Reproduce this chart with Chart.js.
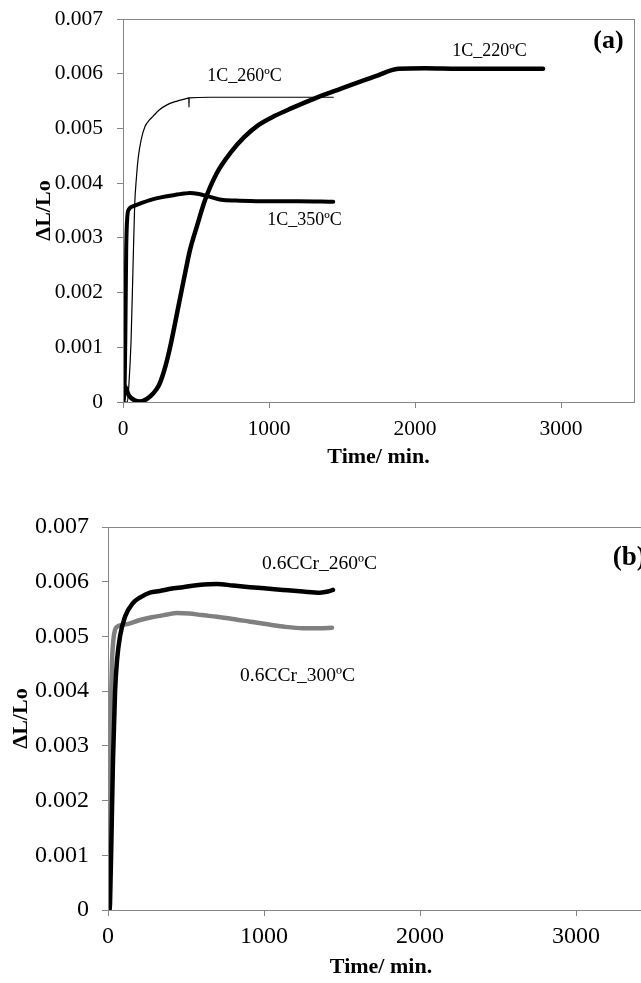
<!DOCTYPE html>
<html><head><meta charset="utf-8">
<script src="https://cdn.jsdelivr.net/npm/chart.js@4"></script>
<style>
html,body{margin:0;padding:0;background:#fff;overflow:hidden;width:641px;height:983px;}
#wrap{position:relative;width:641px;height:983px;overflow:hidden;background:#fff;}
canvas{position:absolute;left:0;}
#c1{top:0;}
#c2{top:490px;}
</style></head><body>
<div id="wrap">
<canvas id="c1" width="641" height="480"></canvas>
<canvas id="c2" width="680" height="493"></canvas>
</div>
<script>
// ---------- data: panel (a) ----------
const t260 = [0, 30, 40, 55, 68, 80, 92, 105, 125, 150, 180, 205, 250, 301, 370, 440, 451, 452, 453, 600, 900, 1200, 1440];
const v260 = [0, 0, 0.0003, 0.0011, 0.0024, 0.0036, 0.0041, 0.00448, 0.0048, 0.00503, 0.00515, 0.00522, 0.00534, 0.00543, 0.0055, 0.00555, 0.00556, 0.00539, 0.00556, 0.00557, 0.00557, 0.00557, 0.00557];

const t350 = [0, 10, 16, 22, 30, 40, 55, 71, 120, 185, 260, 345, 420, 459, 520, 596, 687, 801, 1000, 1200, 1440];
const v350 = [0, 0.0002, 0.0012, 0.0028, 0.0034, 0.00352, 0.00356, 0.00358, 0.00363, 0.00369, 0.00374, 0.00378, 0.00381, 0.00382, 0.0038, 0.00375, 0.00369, 0.00368, 0.00367, 0.00367, 0.00366];

const t220 = [0, 6, 15, 40, 80, 116, 160, 208, 245, 276, 305, 333, 379, 425, 459, 505, 562, 642, 744, 830, 927, 1040, 1155, 1315, 1498, 1726, 1886, 2068, 2300, 2600, 2877];
const v220 = [0, 0.0003, 0.00028, 0.00012, 0.00003, 0.00001, 0.00005, 0.00016, 0.0003, 0.00052, 0.0008, 0.00113, 0.00174, 0.00235, 0.00278, 0.0032, 0.00369, 0.00418, 0.00458, 0.00484, 0.00506, 0.00523, 0.00537, 0.00555, 0.00573, 0.00595, 0.00609, 0.0061, 0.00609, 0.00609, 0.00609];

// ---------- data: panel (b) ----------
const tCr260 = [10, 13, 22, 32, 45, 58, 77, 109, 160, 210, 269, 333, 400, 481, 580, 699, 800, 910, 1000, 1122, 1250, 1359, 1410, 1442];
const vCr260 = [0, 0.00013, 0.0013, 0.00274, 0.00397, 0.00457, 0.005, 0.00536, 0.00561, 0.00572, 0.0058, 0.00583, 0.00587, 0.0059, 0.00594, 0.00596, 0.00593, 0.0059, 0.00588, 0.00585, 0.00582, 0.0058, 0.00582, 0.00585];

const tCr300 = [2, 4, 8, 13, 20, 26, 35, 45, 60, 77, 130, 205, 280, 378, 442, 520, 600, 699, 800, 910, 1000, 1122, 1250, 1359, 1436];
const vCr300 = [0, 0.0001, 0.0012, 0.0027, 0.0039, 0.00457, 0.00495, 0.00512, 0.00518, 0.0052, 0.00523, 0.0053, 0.00535, 0.0054, 0.00543, 0.00542, 0.00539, 0.00536, 0.00532, 0.00527, 0.00523, 0.00518, 0.00515, 0.00515, 0.00516];

// ---------- ticks & labels ----------
const xTickValues = [0, 1000, 2000, 3000];
const xTickLabels = ['0', '1000', '2000', '3000'];
const yTickValues = [0, 0.001, 0.002, 0.003, 0.004, 0.005, 0.006, 0.007];
const yTickLabels = ['0', '0.001', '0.002', '0.003', '0.004', '0.005', '0.006', '0.007'];
const xTitle = 'Time/ min.';
const yTitle = 'ΔL/Lo';
const namesA = ['1C_260ºC', '1C_350ºC', '1C_220ºC'];
const namesB = ['0.6CCr_260ºC', '0.6CCr_300ºC'];
const panelA = '(a)';
const panelB = '(b)';

const pts = (xs, ys) => xs.map((x, i) => ({x: x, y: ys[i]}));
const FONT = "'Liberation Serif', 'Times New Roman', serif";
const AXIS = '#868686';

const frame = {
  id: 'frame',
  afterDraw(chart) {
    const a = chart.chartArea, ctx = chart.ctx;
    ctx.save();
    ctx.strokeStyle = AXIS; ctx.lineWidth = 1;
    ctx.strokeRect(Math.round(a.left) + 0.5, Math.round(a.top) + 0.5, Math.round(a.right - a.left), Math.round(a.bottom - a.top));
    ctx.restore();
  }
};

const notes = {
  id: 'notes',
  afterDatasetsDraw(chart, args, opts) {
    const ctx = chart.ctx, sx = chart.scales.x, sy = chart.scales.y;
    ctx.save();
    ctx.fillStyle = '#000';
    ctx.textBaseline = 'middle';
    (opts.items || []).forEach(it => {
      ctx.font = it.font;
      ctx.textAlign = it.align || 'center';
      ctx.fillText(it.text, sx.getPixelForValue(it.x), sy.getPixelForValue(it.y));
    });
    ctx.restore();
  }
};

function zeroPad(s) { s.paddingTop = 0; s.paddingBottom = 0; s.paddingLeft = 0; s.paddingRight = 0; }

function makeChart(id, datasets, g) {
  return new Chart(document.getElementById(id), {
    type: 'line',
    data: {datasets: datasets},
    options: {
      responsive: false,
      animation: false,
      events: [],
      layout: {padding: {left: 0, top: g.top, right: g.right, bottom: 0}},
      plugins: {legend: {display: false}, tooltip: {enabled: false}, notes: {items: g.notes}},
      elements: {point: {radius: 0}, line: {cubicInterpolationMode: 'monotone', borderJoinStyle: 'round', borderCapStyle: 'round'}},
      scales: {
        x: {
          type: 'linear', min: 0, max: 3500,
          afterBuildTicks: s => { s.ticks = xTickValues.map(v => ({value: v})); },
          afterFit: s => { s.height = g.xH; zeroPad(s); },
          ticks: {color: '#000', font: {family: FONT, size: g.tick}, padding: g.xPad, maxRotation: 0,
                  callback: (v, i) => xTickLabels[i]},
          grid: {display: true, drawOnChartArea: false, drawTicks: true, tickLength: 6, color: AXIS},
          border: {display: true, color: AXIS},
          title: {display: true, text: xTitle, color: '#000', font: {family: FONT, size: g.title, weight: 'bold'}, padding: {top: 0, bottom: g.xTitlePad}}
        },
        y: {
          type: 'linear', min: 0, max: 0.007,
          afterBuildTicks: s => { s.ticks = yTickValues.map(v => ({value: v})); },
          afterFit: s => { s.width = g.yW; zeroPad(s); },
          ticks: {color: '#000', font: {family: FONT, size: g.tick}, padding: g.yPad,
                  callback: (v, i) => yTickLabels[i]},
          grid: {display: true, drawOnChartArea: false, drawTicks: true, tickLength: 6, color: AXIS},
          border: {display: true, color: AXIS},
          title: {display: true, text: yTitle, color: '#000', font: {family: FONT, size: g.title, weight: 'bold'}, padding: {top: g.yTitlePad, bottom: 0}}
        }
      }
    },
    plugins: [frame, notes]
  });
}

makeChart('c1', [
  {data: pts(t260, v260), borderColor: '#000', borderWidth: 1.2},
  {data: pts(t350, v350), borderColor: '#000', borderWidth: 4},
  {data: pts(t220, v220), borderColor: '#000', borderWidth: 4.5}
], {
  top: 19, right: 7, xH: 78, yW: 123, tick: 21.5, title: 22, xPad: 8, yPad: 14, xTitlePad: 9, yTitlePad: 31,
  notes: [
    {text: namesA[0], x: 832, y: 0.00596, font: '18px ' + FONT},
    {text: namesA[1], x: 1243, y: 0.00332, font: '18px ' + FONT},
    {text: namesA[2], x: 2510, y: 0.00641, font: '18px ' + FONT},
    {text: panelA, x: 3325, y: 0.00659, font: 'bold 26px ' + FONT}
  ]
});

makeChart('c2', [
  {data: pts(tCr260, vCr260), borderColor: '#000', borderWidth: 4.5},
  {data: pts(tCr300, vCr300), borderColor: '#808080', borderWidth: 4.5}
], {
  top: 37, right: 26, xH: 73, yW: 108, tick: 24, title: 22, xPad: 6, yPad: 13, xTitlePad: 2, yTitlePad: 8,
  notes: [
    {text: namesB[0], x: 1356, y: 0.00632, font: '19.5px ' + FONT},
    {text: namesB[1], x: 1215, y: 0.00427, font: '19.5px ' + FONT},
    {text: panelB, x: 3235, y: 0.00643, font: 'bold 27px ' + FONT, align: 'left'}
  ]
});
</script>
</body></html>
